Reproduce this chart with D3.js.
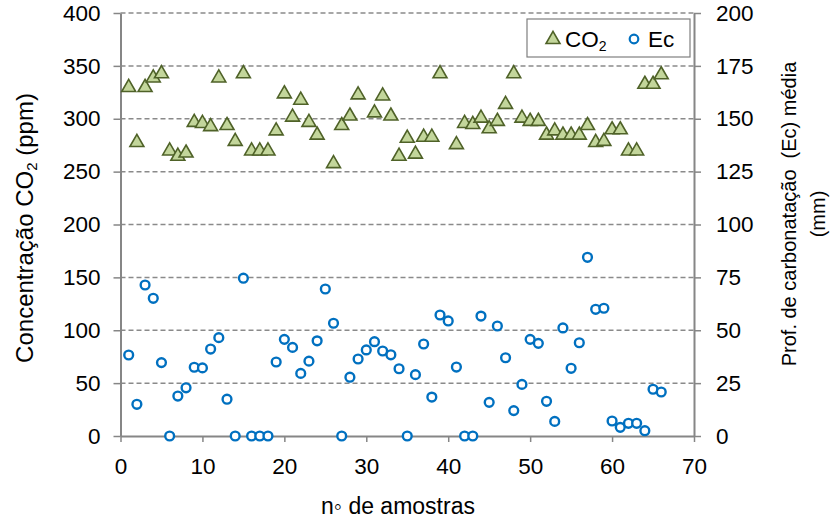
<!DOCTYPE html>
<html>
<head>
<meta charset="utf-8">
<script src="https://cdn.jsdelivr.net/npm/d3@7"></script>
<style>
  body { margin: 0; background: #fff; }
  text { font-family: "Liberation Sans", Arial, sans-serif; fill: #000; }
</style>
</head>
<body>
<div id="chart"></div>
<script>
// sample numbers (x)
var samples = [1,2,3,4,5,6,7,8,9,10,11,12,13,14,15,16,17,18,19,20,21,22,23,24,25,26,27,28,29,30,
  31,32,33,34,35,36,37,38,39,40,41,42,43,44,45,46,47,48,49,50,51,52,53,54,55,56,57,58,59,60,
  61,62,63,64,65,66];

// CO2 concentration (ppm), left axis
var co2 = [331,279,331,340,344,271,266,269,298,297,294,340,295,280,344,271,271,271,290,325,
  303,319,298,286,null,259,295,304,324,null,307,323,304,266,283,268,284,284,344,null,
  277,297,296,302,292,299,315,344,302,299,299,286,290,286,286,286,295,279,280,291,
  291,271,271,334,334,343];

// carbonation depth Ec (mm), right axis
var ec = [38.3,15,71.4,65.1,34.7,0,18.9,22.8,32.5,32.2,41.1,46.5,17.4,0,74.6,0,0,0,35,45.7,
  41.9,29.6,35.4,45,69.5,53.3,0,27.8,36.4,40.7,44.6,40.2,38.4,31.8,0,29,43.5,18.4,57.2,54.4,
  32.6,0,0,56.7,15.9,52,37,12,24.4,45.7,43.8,16.4,6.9,51.1,32,44.1,84.5,59.9,60.4,7.1,
  4.1,6,6,2.5,22.1,20.8];

var xTicks = [0,10,20,30,40,50,60,70];
var leftTicks = [0,50,100,150,200,250,300,350,400];
var rightTicks = [0,25,50,75,100,125,150,175,200];

var W = 833, H = 522;
var plotL = 120.5, plotR = 694, plotT = 13, plotB = 436;
var axisColor = "#868686";

var svg = d3.select("#chart").append("svg")
  .attr("width", W).attr("height", H);

var x = d3.scaleLinear().domain([0, 70]).range([plotL, plotR]);
var yL = d3.scaleLinear().domain([0, 400]).range([plotB, plotT]);
var yR = d3.scaleLinear().domain([0, 200]).range([plotB, plotT]);

// dashed gridlines
svg.append("g").selectAll("line")
  .data(leftTicks.filter(d => d > 0))
  .enter().append("line")
    .attr("x1", plotL).attr("x2", plotR)
    .attr("y1", d => yL(d)).attr("y2", d => yL(d))
    .attr("stroke", "#8a8a8a")
    .attr("stroke-width", 1.5)
    .attr("stroke-dasharray", "5,3");

function styleAxis(g) {
  g.select(".domain").attr("stroke", axisColor).attr("stroke-width", 2);
  g.selectAll(".tick line").attr("stroke", axisColor).attr("stroke-width", 1.5);
  g.selectAll(".tick text").attr("font-size", 22.5).attr("fill", "#000")
    .attr("font-family", "Liberation Sans, Arial, sans-serif");
}

svg.append("g")
  .attr("transform", `translate(${plotL},0)`)
  .call(d3.axisLeft(yL).tickValues(leftTicks).tickSize(7).tickSizeOuter(0).tickPadding(13))
  .call(styleAxis);

svg.append("g")
  .attr("transform", `translate(${plotR},0)`)
  .call(d3.axisRight(yR).tickValues(rightTicks).tickSize(7).tickSizeOuter(0).tickPadding(15))
  .call(styleAxis);

svg.append("g")
  .attr("transform", `translate(0,${plotB})`)
  .call(d3.axisBottom(x).tickValues(xTicks).tickSize(6).tickSizeOuter(0).tickPadding(16))
  .call(styleAxis);

// CO2 triangles
var tri = d3.symbol().type(d3.symbolTriangle).size(84);
var co2Pts = samples.map((s, i) => ({s: s, v: co2[i]})).filter(d => d.v != null);
svg.append("g").selectAll("path")
  .data(co2Pts)
  .enter().append("path")
    .attr("d", tri)
    .attr("transform", d => `translate(${x(d.s)},${yL(d.v) + 1.5})`)
    .attr("fill", "#c3d69b")
    .attr("stroke", "#4f6228")
    .attr("stroke-width", 1.6);

// Ec circles
svg.append("g").selectAll("circle")
  .data(samples.map((s, i) => ({s: s, v: ec[i]})))
  .enter().append("circle")
    .attr("cx", d => x(d.s))
    .attr("cy", d => yR(d.v))
    .attr("r", 4.4)
    .attr("fill", "#fff")
    .attr("stroke", "#0070c0")
    .attr("stroke-width", 2.4);

// axis titles
var lt = svg.append("text")
  .attr("transform", "translate(33,228) rotate(-90)")
  .attr("text-anchor", "middle")
  .attr("font-size", 24);
lt.append("tspan").text("Concentração CO");
lt.append("tspan").attr("font-size", 15).attr("dy", 4).text("2");
lt.append("tspan").attr("dy", -4).text(" (ppm)");

var rt = svg.append("text")
  .attr("transform", "translate(796,214) rotate(-90)")
  .attr("text-anchor", "middle")
  .attr("font-size", 20)
  .style("white-space", "pre");
rt.append("tspan").attr("x", 0).attr("y", 0).text("Prof. de carbonatação  (Ec) média");
rt.append("tspan").attr("x", 0).attr("y", 29).text("(mm)");

svg.append("text")
  .attr("x", 398).attr("y", 514)
  .attr("text-anchor", "middle")
  .attr("font-size", 23)
  .text("n\u25E6 de amostras");

// legend
var lg = svg.append("g");
lg.append("rect")
  .attr("x", 527).attr("y", 19).attr("width", 163).attr("height", 38)
  .attr("fill", "#fff").attr("stroke", "#7f7f7f").attr("stroke-width", 1.2);
lg.append("path")
  .attr("d", tri)
  .attr("transform", "translate(553,39.5)")
  .attr("fill", "#c3d69b").attr("stroke", "#4f6228").attr("stroke-width", 1.6);
var l1 = lg.append("text").attr("x", 565).attr("y", 47).attr("font-size", 22.5);
l1.append("tspan").text("CO");
l1.append("tspan").attr("font-size", 14).attr("dy", 4).text("2");
lg.append("circle")
  .attr("cx", 634).attr("cy", 39).attr("r", 4.3)
  .attr("fill", "#fff").attr("stroke", "#0070c0").attr("stroke-width", 2.2);
lg.append("text").attr("x", 648).attr("y", 47).attr("font-size", 22.5).text("Ec");
</script>
</body>
</html>
